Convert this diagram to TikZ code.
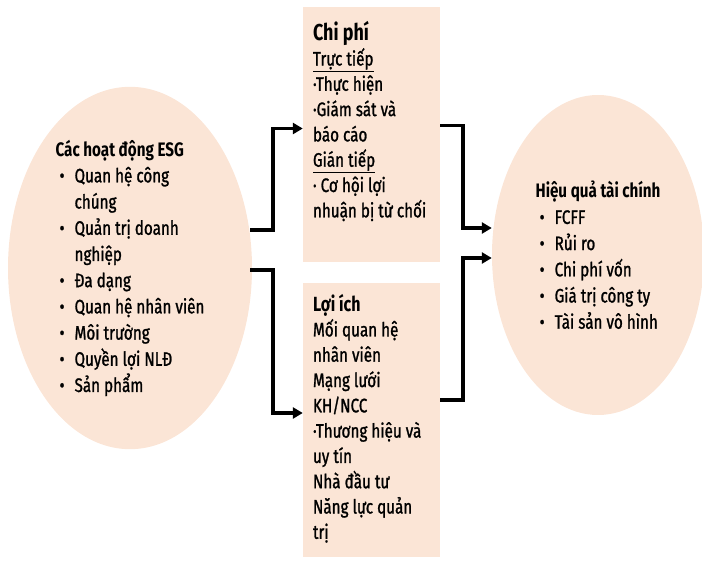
\documentclass[tikz,border=0pt]{standalone}
\usepackage{fontspec}
\setmainfont{Fira Sans}[FakeStretch=0.78,UprightFeatures={FakeBold=1.2}]
\usetikzlibrary{shapes.geometric,arrows.meta}

\definecolor{peach}{HTML}{FBE5D6}

% bullet and indent for the lists
\newcommand\bul{\hspace*{4pt}\makebox[15pt][l]{•}}
\newcommand\ind{\hspace*{19pt}}

\tikzset{
  blob/.style={ellipse,fill=peach,inner sep=0pt,align=left},
  panel/.style={rectangle,fill=peach,inner sep=0pt},
  paneltext/.style={anchor=north west,inner sep=0pt,align=left,
    font=\fontsize{19.5}{25.3}\selectfont},
  conn/.style={line width=3.6pt,-{Triangle[length=10pt,width=11pt]}},
}

\begin{document}
\begin{tikzpicture}[x=1pt,y=-1pt,font=\fontsize{19.5}{26.2}\selectfont]
  \useasboundingbox (0,0) rectangle (702,561);
  % ellipses
  \node[blob,minimum width=244pt,minimum height=345pt] (esg) at (130,268)
    {\textbf{Các hoạt động ESG}\\
     \bul Quan hệ công\\ \ind chúng\\
     \bul Quản trị doanh\\ \ind nghiệp\\
     \bul Đa dạng\\
     \bul Quan hệ nhân viên\\
     \bul Môi trường\\
     \bul Quyền lợi NLĐ\\
     \bul Sản phẩm};
  \node[blob,minimum width=212pt,minimum height=320pt] (hq) at (598,255)
    {\textbf{Hiệu quả tài chính}\\
     \bul FCFF\\
     \bul Rủi ro\\
     \bul Chi phí vốn\\
     \bul Giá trị công ty\\
     \bul Tài sản vô hình};
  % boxes
  \node[panel,minimum width=137pt,minimum height=255pt] (chi) at (371.5,134.5) {};
  \node[panel,minimum width=137pt,minimum height=274pt] (loi) at (371.5,420) {};
  \node[paneltext] (chitext) at ([xshift=10pt,yshift=-14pt]chi.north west)
    {{\fontsize{23}{25.3}\selectfont\textbf{Chi phí}}\\
     \underline{Trực tiếp}\\
     ·Thực hiện\\
     ·Giám sát và\\
     báo cáo\\
     \underline{Gián tiếp}\\
     · Cơ hội lợi\\
     nhuận bị từ chối};
  \node[paneltext] (loitext) at ([xshift=10pt,yshift=-11pt]loi.north west)
    {{\fontsize{20.5}{25.3}\selectfont\textbf{Lợi ích}}\\
     Mối quan hệ\\
     nhân viên\\
     Mạng lưới\\
     KH/NCC\\
     ·Thương hiệu và\\
     uy tín\\
     Nhà đầu tư\\
     Năng lực quản\\
     trị};
  % connectors
  \draw[conn] ([xshift=-2pt,yshift=38pt]esg.east) -- ++(23,0) |- ([yshift=6pt]chi.west);
  \draw[conn] ([xshift=-2pt,yshift=-2pt]esg.east) -- ++(23,0) |- ([yshift=7pt]loi.west);
  \draw[conn] ([yshift=9pt]chi.east) -- ++(23,0) |- ([yshift=27pt]hq.west);
  \draw[conn] ([yshift=20pt]loi.east) -- ++(23,0) |- ([yshift=-3pt]hq.west);
\end{tikzpicture}
\end{document}
